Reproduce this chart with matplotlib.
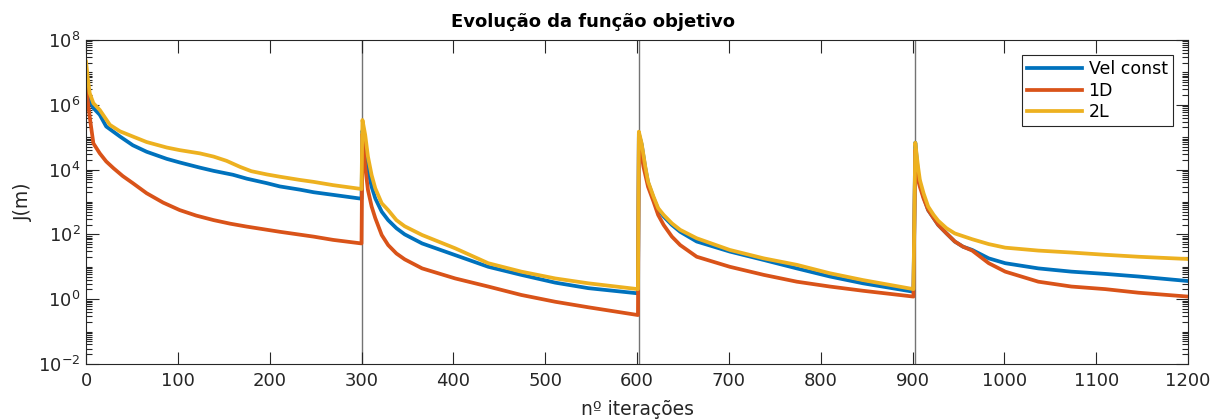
import numpy as np
import matplotlib
matplotlib.use("Agg")
import matplotlib.pyplot as plt
from matplotlib.ticker import FixedLocator, NullFormatter, LogFormatterSciNotation

# objective function J(m) per iteration, four restarts of 301 iterations each
# (values stored as log10 of J)
it_vel = [0, 2, 4, 8, 15, 22, 37, 51, 66, 88, 102, 124, 139, 160, 175, 197, 211, 233, 248, 269, 300,
          301, 304, 307, 311, 315, 322, 329, 338, 347, 366, 402, 438, 474, 511, 547, 601,
          602, 605, 609, 612, 618, 623, 629, 638, 647, 665, 701, 738, 774, 810, 846, 901,
          903, 906, 908, 912, 917, 923, 928, 937, 946, 955, 965, 983, 1001, 1037, 1073, 1110, 1146, 1200]
logj_vel = [6.95, 6.55, 6.15, 5.90, 5.69, 5.33, 5.02, 4.75, 4.55, 4.33, 4.22, 4.06, 3.96, 3.84, 3.72, 3.58, 3.48, 3.38, 3.30, 3.22, 3.10,
            5.20, 4.45, 3.99, 3.47, 3.11, 2.70, 2.44, 2.19, 2.00, 1.72, 1.36, 1.00, 0.75, 0.51, 0.34, 0.18,
            5.10, 4.78, 4.05, 3.60, 3.12, 2.77, 2.55, 2.29, 2.08, 1.78, 1.47, 1.21, 0.95, 0.70, 0.49, 0.23,
            4.83, 3.88, 3.58, 3.16, 2.75, 2.50, 2.29, 2.03, 1.78, 1.62, 1.52, 1.26, 1.11, 0.95, 0.85, 0.78, 0.70, 0.56]

it_1d = [0, 2, 4, 8, 15, 22, 30, 40, 51, 66, 84, 102, 120, 139, 157, 175, 211, 248, 269, 300,
         301, 304, 307, 311, 315, 322, 329, 338, 347, 366, 402, 438, 474, 511, 547, 601,
         602, 607, 612, 618, 623, 629, 638, 647, 665, 701, 738, 774, 810, 846, 901,
         903, 906, 908, 912, 917, 923, 928, 937, 946, 955, 965, 983, 1001, 1037, 1073, 1110, 1146, 1200]
logj_1d = [6.61, 6.10, 5.63, 4.81, 4.50, 4.25, 4.04, 3.80, 3.58, 3.27, 2.98, 2.75, 2.58, 2.44, 2.33, 2.24, 2.08, 1.93, 1.83, 1.72,
           5.10, 4.09, 3.37, 2.86, 2.50, 1.98, 1.67, 1.41, 1.23, 0.95, 0.64, 0.39, 0.13, -0.08, -0.25, -0.49,
           5.00, 4.09, 3.47, 3.01, 2.60, 2.29, 1.93, 1.67, 1.31, 1.00, 0.75, 0.54, 0.39, 0.26, 0.08,
           4.60, 3.68, 3.47, 3.11, 2.75, 2.50, 2.29, 2.03, 1.78, 1.62, 1.50, 1.11, 0.85, 0.54, 0.39, 0.31, 0.20, 0.08]

it_2l = [0, 2, 4, 8, 15, 26, 37, 51, 66, 88, 102, 124, 139, 153, 168, 180, 197, 211, 233, 248, 269, 300,
         301, 304, 307, 311, 315, 322, 329, 338, 347, 366, 402, 438, 474, 511, 547, 601,
         602, 605, 609, 612, 618, 623, 629, 638, 647, 665, 701, 738, 774, 810, 846, 901,
         903, 906, 908, 912, 917, 923, 928, 937, 946, 965, 983, 1001, 1037, 1073, 1110, 1146, 1200]
logj_2l = [7.33, 6.80, 6.36, 6.05, 5.84, 5.38, 5.18, 5.02, 4.85, 4.68, 4.60, 4.50, 4.40, 4.27, 4.08, 3.95, 3.85, 3.78, 3.68, 3.62, 3.52, 3.40,
           5.53, 5.07, 4.40, 3.83, 3.42, 2.96, 2.75, 2.44, 2.25, 1.98, 1.57, 1.11, 0.85, 0.64, 0.49, 0.31,
           5.17, 4.81, 4.09, 3.63, 3.16, 2.81, 2.60, 2.34, 2.14, 1.88, 1.52, 1.26, 1.06, 0.80, 0.59, 0.31,
           4.83, 4.09, 3.68, 3.27, 2.86, 2.60, 2.42, 2.19, 2.03, 1.85, 1.70, 1.59, 1.50, 1.44, 1.37, 1.31, 1.24]

restarts = [301, 602, 903]
series = [("Vel const", it_vel, logj_vel, "#0072BD"),
          ("1D", it_1d, logj_1d, "#D95319"),
          ("2L", it_2l, logj_2l, "#EDB120")]

fig = plt.figure(figsize=(12.15, 4.19), dpi=100)
ax = fig.add_axes([0.0708, 0.1313, 0.9070, 0.7733])

# restart markers
for x in restarts:
    ax.axvline(x, color="#737373", lw=1.0, zorder=1)

for name, it, lj, c in series:
    ax.plot(it, 10.0 ** np.array(lj), color=c, lw=2.7, label=name, zorder=2)

ax.set_yscale("log")
ax.set_xlim(0, 1200)
ax.set_ylim(1e-2, 1e8)
ax.set_xticks(np.arange(0, 1201, 100))
ax.yaxis.set_major_locator(FixedLocator([10.0 ** e for e in range(-2, 9, 2)]))
ax.yaxis.set_major_formatter(LogFormatterSciNotation())
minor = [k * 10.0 ** d for d in range(-2, 8) for k in range(1, 10)
         if not (k == 1 and d % 2 == 0)]
ax.yaxis.set_minor_locator(FixedLocator(minor))
ax.yaxis.set_minor_formatter(NullFormatter())

dark = "#262626"
for s in ax.spines.values():
    s.set_color(dark)
    s.set_linewidth(0.8)
ax.tick_params(which="both", direction="in", top=True, right=True, colors=dark,
               labelsize=13, width=0.8)
ax.tick_params(which="major", length=9, pad=6)
ax.tick_params(which="minor", length=4.5)
ax.tick_params(axis="y", pad=4)

ax.set_xlabel("nº iterações", fontsize=13.5, color=dark, labelpad=7)
ax.set_ylabel("J(m)", fontsize=13.5, color=dark, labelpad=4)
ax.set_title("Evolução da função objetivo", fontsize=13, fontweight="bold",
             x=0.46, pad=9)

leg = ax.legend(loc="upper right", bbox_to_anchor=(0.994, 0.98), fontsize=12.5,
                handlelength=3.15, handletextpad=0.4, labelspacing=0.2,
                borderpad=0.3, fancybox=False, framealpha=1)
leg.get_frame().set_edgecolor(dark)
leg.get_frame().set_linewidth(0.8)

fig.savefig("out.png", dpi=100)
